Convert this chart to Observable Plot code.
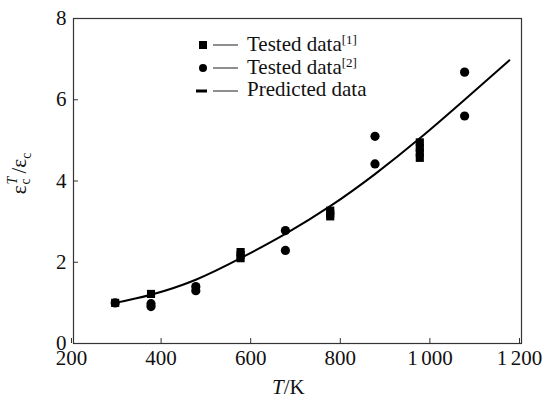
<!DOCTYPE html>
<html><head><meta charset="utf-8">
<script src="https://cdn.jsdelivr.net/npm/d3@7"></script>
<script src="https://cdn.jsdelivr.net/npm/@observablehq/plot@0.6"></script>
<style>
html,body{margin:0;padding:0;background:#fff;}
#wrap{position:relative;width:543px;height:401px;overflow:hidden;font-family:'Liberation Serif',serif;color:#111;}
#wrap svg text{font-family:'Liberation Serif',serif;}
.leg{position:absolute;font-size:21px;white-space:nowrap;line-height:1;}
.leg sup{font-size:13px;vertical-align:7px;}
#ylab{position:absolute;left:-1px;top:163px;font-size:21px;line-height:1;transform:rotate(-90deg);transform-origin:center;white-space:nowrap;}
#xlab{position:absolute;left:272px;top:377px;font-size:21px;line-height:1;}
</style></head>
<body><div id="wrap"></div>
<script>
// Tested data [1] (squares)
const sqT = [293, 373, 573, 573, 573, 773, 773, 773, 973, 973, 973, 973];
const sqV = [1.0, 1.22, 2.25, 2.18, 2.1, 3.27, 3.2, 3.13, 4.95, 4.82, 4.7, 4.57];
// Tested data [2] (circles)
const ciT = [293, 373, 373, 473, 473, 673, 673, 873, 873, 1073, 1073];
const ciV = [1.0, 0.98, 0.91, 1.4, 1.3, 2.78, 2.29, 5.1, 4.42, 6.68, 5.6];
// Predicted data (curve)
const prT = [293, 373, 473, 573, 673, 773, 873, 973, 1073, 1173];
const prV = [1.0, 1.2, 1.57, 2.1, 2.7, 3.38, 4.17, 5.05, 6.0, 6.97];
const xTicks = [200, 400, 600, 800, 1000, 1200];
const xTickLabels = ["200", "400", "600", "800", "1\u2006000", "1\u2006200"];
const yTicks = [0, 2, 4, 6, 8];
const legendLabels = ["Tested data", "Tested data", "Predicted data"];
const legendRefs = ["[1]", "[2]", ""];

const sq = sqT.map((t, i) => ({t, v: sqV[i]}));
const ci = ciT.map((t, i) => ({t, v: ciV[i]}));
const pr = prT.map((t, i) => ({t, v: prV[i]}));

const chart = Plot.plot({
  width: 543, height: 401,
  marginLeft: 73, marginRight: 22, marginTop: 18, marginBottom: 58,
  style: {fontFamily: "'Liberation Serif', serif", fontSize: "21px", color: "#111", background: "white"},
  x: {domain: [200, 1200]},
  y: {domain: [0, 8]},
  marks: [
    Plot.frame({stroke: "#333", strokeWidth: 1.2}),
    Plot.axisX({ticks: xTicks, tickSize: -5, tickPadding: 12, tickFormat: (d) => xTickLabels[xTicks.indexOf(d)], label: null, fontSize: 21, dx: -2, stroke: "#333"}),
    Plot.axisY({ticks: yTicks, tickSize: -5, tickPadding: 12, label: null, fontSize: 21, stroke: "#333"}),
    Plot.line(pr, {x: "t", y: "v", curve: "natural", stroke: "#000", strokeWidth: 2}),
    Plot.dot(sq, {x: "t", y: "v", symbol: "square", r: 4.6, fill: "#000", stroke: "none"}),
    Plot.dot(ci, {x: "t", y: "v", symbol: "circle", r: 4.6, fill: "#000", stroke: "none"})
  ]
});
const wrap = document.getElementById("wrap");
wrap.appendChild(chart);

// Legend
const rowsY = [45, 68, 91];
const svgNS = "http://www.w3.org/2000/svg";
const lg = document.createElementNS(svgNS, "g");
rowsY.forEach((y, i) => {
  let m;
  if (i === 0) { m = document.createElementNS(svgNS, "rect"); m.setAttribute("x", 199); m.setAttribute("y", y - 4); m.setAttribute("width", 8); m.setAttribute("height", 8); }
  else if (i === 1) { m = document.createElementNS(svgNS, "circle"); m.setAttribute("cx", 203); m.setAttribute("cy", y); m.setAttribute("r", 4); }
  else { m = document.createElementNS(svgNS, "rect"); m.setAttribute("x", 196); m.setAttribute("y", y - 1.5); m.setAttribute("width", 11); m.setAttribute("height", 3); }
  m.setAttribute("fill", "#000");
  lg.appendChild(m);
  const l = document.createElementNS(svgNS, "line");
  l.setAttribute("x1", 213); l.setAttribute("x2", 238); l.setAttribute("y1", y); l.setAttribute("y2", y);
  l.setAttribute("stroke", "#444"); l.setAttribute("stroke-width", 1.2);
  lg.appendChild(l);
  const d = document.createElement("div");
  d.className = "leg";
  d.style.left = "247px"; d.style.top = (y - 12) + "px";
  d.innerHTML = legendLabels[i] + (legendRefs[i] ? "<sup>" + legendRefs[i] + "</sup>" : "");
  wrap.appendChild(d);
});
chart.appendChild(lg);

// Axis labels
const yl = document.createElement("div");
yl.id = "ylab";
yl.innerHTML = '<span>ε</span><span style="display:inline-block;position:relative;width:12px;height:10px;"><span style="position:absolute;left:1px;top:-10px;font-size:14px;font-style:italic;">T</span><span style="position:absolute;left:1px;top:3px;font-size:14px;">c</span></span><span>/ε</span><span style="font-size:14px;position:relative;top:5px;">c</span>';
wrap.appendChild(yl);
const xl = document.createElement("div");
xl.id = "xlab";
xl.innerHTML = '<i>T</i>/K';
wrap.appendChild(xl);
</script>
</body></html>
